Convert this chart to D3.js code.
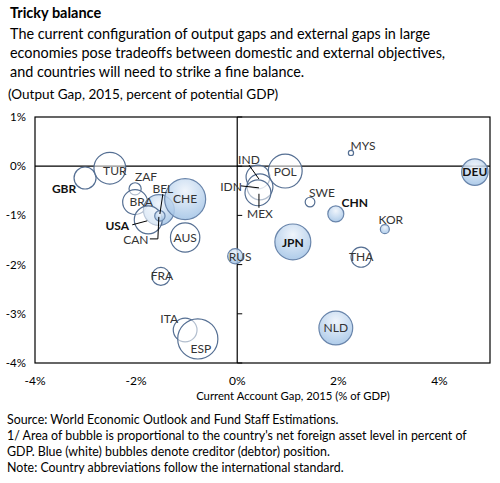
<!DOCTYPE html>
<html><head><meta charset="utf-8">
<script src="https://cdn.jsdelivr.net/npm/d3@7"></script>
<style>
body{margin:0;background:#fff;}
svg{display:block;font-family:Lato,"Open Sans",sans-serif;}
</style></head>
<body><svg id="c" width="500" height="483"></svg>
<script>
// ---------- data ----------
const countries = ["GBR","TUR","ZAF","BRA","BEL","USA","CAN","CHE","AUS","RUS","FRA","ITA","ESP","IND","IDN","MEX","POL","MYS","DEU","SWE","CHN","KOR","JPN","THA","NLD"];
const caGap =     [-3.01,-2.52,-2.02,-2.02,-1.55,-1.76,-1.53,-1.03,-1.03,-0.04,-1.51,-1.03,-0.78,0.41,0.45,0.41,0.95,2.25,4.70,1.44,1.95,2.92,1.10,2.45,1.95];
const outputGap = [-0.24,-0.04,-0.46,-0.73,-0.89,-1.09,-1.01,-0.67,-1.45,-1.83,-2.24,-3.33,-3.51,-0.22,-0.42,-0.54,-0.10,0.27,-0.12,-0.73,-0.97,-1.28,-1.54,-1.85,-3.29];
const nfa =       [-36,-75,-11,-46,71,-58,8,125,-64,17,-24,-42,-120,-42,-50,-50,-85,-2,52,-7,19,6,96,-30,85];
const boldLabels = ["GBR","USA","CHN","JPN","DEU"];
const xTicks = [-4,-2,0,2,4];
const yTicks = [1,0,-1,-2,-3,-4];

const title = "Tricky balance";
const subtitle = ["The current configuration of output gaps and external gaps in large",
  "economies pose tradeoffs between domestic and external objectives,",
  "and countries will need to strike a fine balance."];
const yTitle = "(Output Gap, 2015,  percent of potential GDP)";
const xTitle = "Current Account Gap, 2015 (% of GDP)";
const notes = ["Source: World Economic Outlook and Fund Staff Estimations.",
  "1/ Area of bubble is proportional to the country's net foreign asset level in percent of",
  "GDP. Blue (white) bubbles denote creditor (debtor) position.",
  "Note: Country abbreviations follow the international standard."];

// label placement (pixel offsets from bubble centre) and leader lines
const labelLayout = {
  GBR:{dx:-21,dy:11}, TUR:{dx:5,dy:3}, ZAF:{dx:11,dy:-12}, BRA:{dx:6,dy:0},
  BEL:{dx:4,dy:-21, line:[[4,-16],[1,4]]},
  USA:{dx:-31,dy:6, line:[[-16,5],[-1,1]]},
  CAN:{dx:-24,dy:24, line:[[-10,23],[-2,23],[-1,1]]},
  CHE:{dx:0,dy:0}, AUS:{dx:0,dy:0}, RUS:{dx:5,dy:1}, FRA:{dx:1,dy:-1},
  ITA:{dx:-16,dy:-11}, ESP:{dx:3,dy:10},
  IND:{dx:-9,dy:-17, line:[[-9,-12],[1,2]]},
  IDN:{dx:-29,dy:0, line:[[-19,-1],[-1,1]]},
  MEX:{dx:2,dy:21, line:[[1,15],[1,1]]},
  POL:{dx:0,dy:1}, MYS:{dx:12,dy:-7}, DEU:{dx:0,dy:0},
  SWE:{dx:12,dy:-9}, CHN:{dx:19,dy:-11}, KOR:{dx:6,dy:-9},
  JPN:{dx:0,dy:1}, THA:{dx:0,dy:0}, NLD:{dx:0,dy:0}
};

// ---------- drawing ----------
const svg = d3.select("#c");
const defs = svg.append("defs");
const g1 = defs.append("radialGradient").attr("id","blueGrad")
  .attr("cx","50%").attr("cy","30%").attr("r","75%");
g1.append("stop").attr("offset","0%").attr("stop-color","#edf3fb");
g1.append("stop").attr("offset","100%").attr("stop-color","#9bbfe4");

const plot = {l:35, r:490, t:117, b:363};
const x = d3.scaleLinear().domain([-4,5]).range([plot.l, plot.r]);
const y = d3.scaleLinear().domain([-4,1]).range([plot.b, plot.t]);
const rScale = d3.scaleSqrt().domain([0,125]).range([0,20.5]);

// titles
svg.append("text").attr("x",10).attr("y",18).attr("font-size",14.5).attr("font-weight","bold").attr("fill","#000").text(title);
svg.append("g").selectAll("text").data(subtitle).join("text")
  .attr("x",10).attr("y",(d,i)=>39+i*19).attr("font-size",14.4).attr("fill","#000").text(d=>d);
svg.append("text").attr("x",8).attr("y",99).attr("font-size",13.5).attr("fill","#000").text(yTitle);

// frame
svg.append("rect").attr("x",plot.l).attr("y",plot.t).attr("width",plot.r-plot.l).attr("height",plot.b-plot.t)
  .attr("fill","none").attr("stroke","#000").attr("stroke-width",1.2);

// axes lines at zero
svg.append("line").attr("x1",plot.l).attr("x2",plot.r).attr("y1",y(0)).attr("y2",y(0)).attr("stroke","#000").attr("stroke-width",1.2);
svg.append("line").attr("x1",x(0)).attr("x2",x(0)).attr("y1",plot.t).attr("y2",plot.b).attr("stroke","#000").attr("stroke-width",1.2);
// y ticks on zero axis
svg.append("g").selectAll("line").data(yTicks).join("line")
  .attr("x1",x(0)).attr("x2",x(0)+5).attr("y1",d=>y(d)).attr("y2",d=>y(d)).attr("stroke","#000");

// tick labels
svg.append("g").selectAll("text").data(yTicks).join("text")
  .attr("x",26).attr("y",d=>y(d)).attr("dy","0.35em").attr("text-anchor","end")
  .attr("font-size",11.5).attr("fill","#000").text(d=>d+"%");
svg.append("g").selectAll("text").data(xTicks).join("text")
  .attr("x",d=>x(d)).attr("y",385).attr("text-anchor","middle")
  .attr("font-size",12).attr("fill","#000").text(d=>d+"%");
svg.append("text").attr("x",293).attr("y",400).attr("text-anchor","middle").attr("font-size",11.3).attr("fill","#000").text(xTitle);

// bubbles
const data = countries.map((c,i)=>({c, x:caGap[i], y:outputGap[i], v:nfa[i]}));
const gb = svg.append("g");
gb.selectAll("circle").data(data).join("circle")
  .attr("cx",d=>x(d.x)).attr("cy",d=>y(d.y)).attr("r",d=>rScale(Math.abs(d.v)))
  .attr("fill",d=>d.v>0?"url(#blueGrad)":"#ffffff")
  .attr("fill-opacity",d=>d.v>0?0.85:0.55)
  .attr("stroke",d=>d.v>0?"#6985ab":"#556f93").attr("stroke-width",1.2);

// leader lines
const lg = svg.append("g");
data.forEach(d=>{
  const L = labelLayout[d.c];
  if(L && L.line){
    const cx=x(d.x), cy=y(d.y);
    lg.append("path").attr("d", d3.line()(L.line.map(p=>[cx+p[0],cy+p[1]])))
      .attr("fill","none").attr("stroke","#000").attr("stroke-width",1);
  }
});

// labels
svg.append("g").selectAll("text").data(data).join("text")
  .attr("x",d=>x(d.x)+labelLayout[d.c].dx).attr("y",d=>y(d.y)+labelLayout[d.c].dy)
  .attr("dy","0.35em").attr("text-anchor","middle")
  .attr("font-size",12).attr("font-weight",d=>boldLabels.includes(d.c)?"bold":"normal")
  .attr("fill",d=>boldLabels.includes(d.c)?"#111":"#333").text(d=>d.c);

// notes
svg.append("g").selectAll("text").data(notes).join("text")
  .attr("x",7).attr("y",(d,i)=>424+i*16).attr("font-size",12.4).attr("fill","#000").text(d=>d);
</script>
</body></html>
